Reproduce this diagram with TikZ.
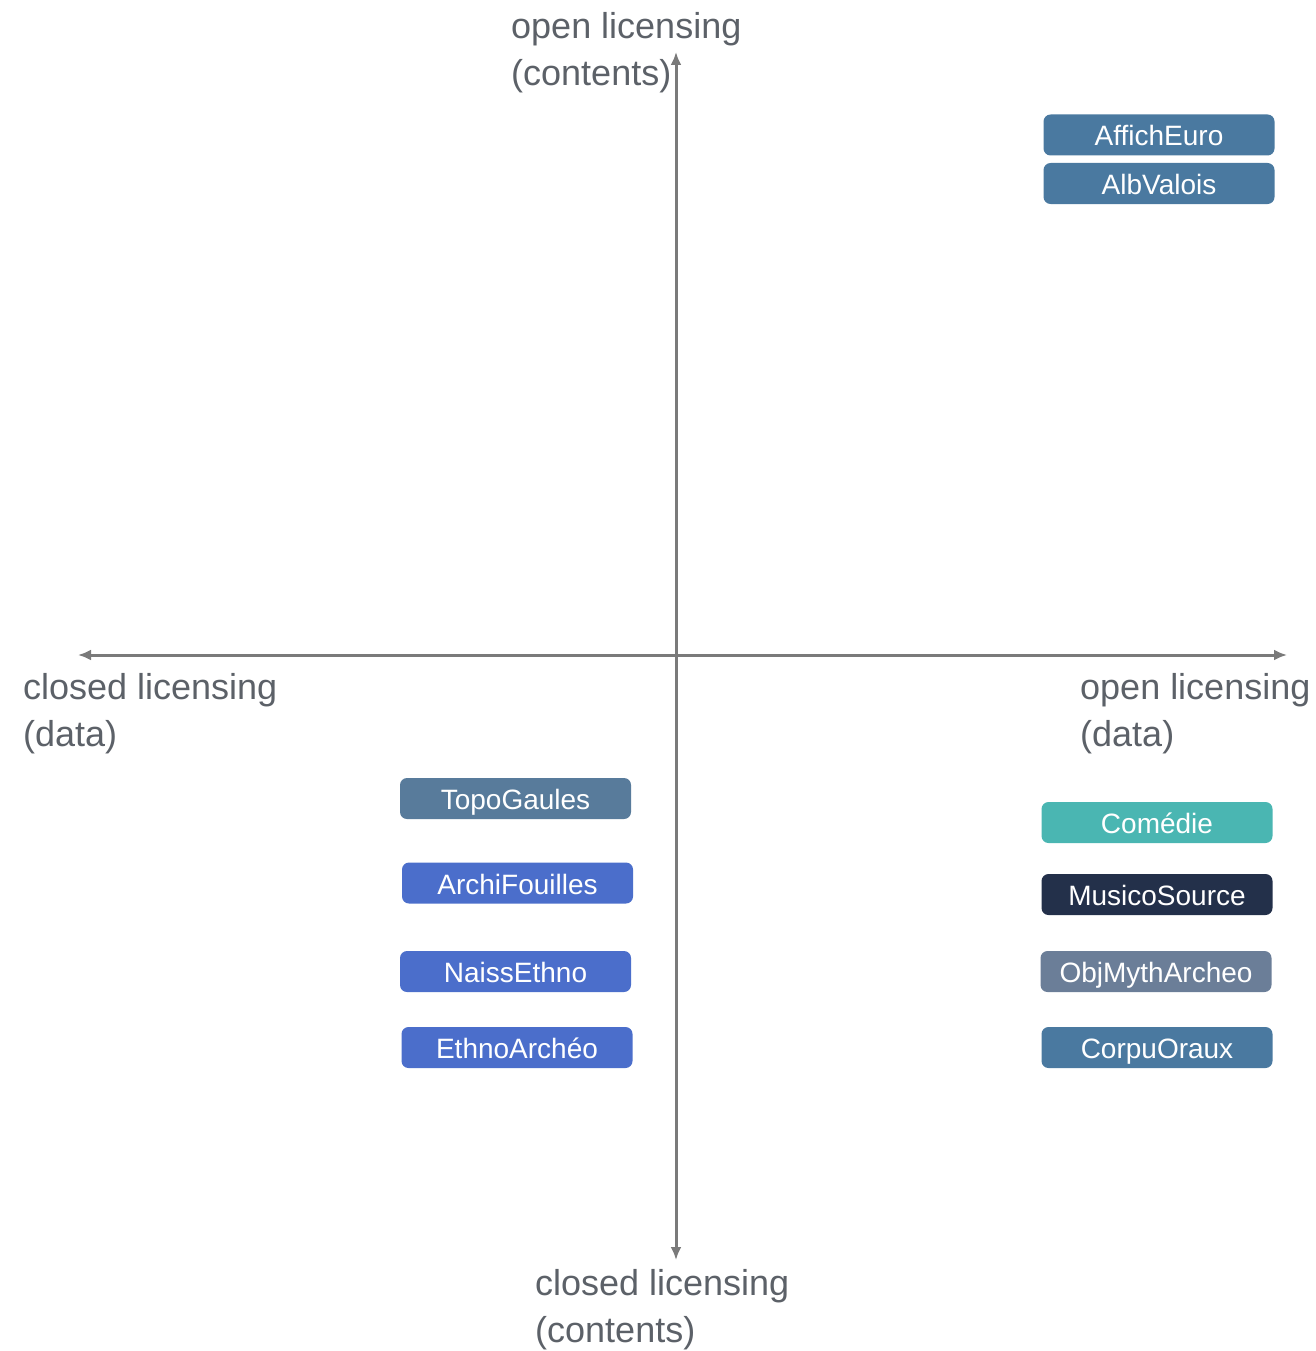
\documentclass[tikz,border=0pt]{standalone}
\usepackage{fontspec}
\setmainfont{Liberation Sans}
\usetikzlibrary{arrows.meta}
\definecolor{axisgray}{HTML}{7A7A7A}
\definecolor{labelgray}{HTML}{5C6168}
\definecolor{steel}{HTML}{4A79A0}
\definecolor{topo}{HTML}{587B9B}
\definecolor{royal}{HTML}{4B6ECB}
\definecolor{teal}{HTML}{4AB6B2}
\definecolor{navy}{HTML}{23304A}
\definecolor{slate}{HTML}{6B7E98}

\begin{document}
\begin{tikzpicture}[x=1pt, y=-1pt,
    axis/.style = {draw=axisgray, line width=3pt, {Latex[length=13pt,width=11pt]}-{Latex[length=13pt,width=11pt]}},
    lbl/.style = {text=labelgray, align=left, inner sep=0pt, anchor=base west, font=\fontsize{36}{47}\selectfont},
    box/.style = {fill=#1, rounded corners=7pt, minimum width=231pt, minimum height=41pt, inner sep=0pt, text height=27pt, text depth=5pt, text=white, font=\fontsize{28}{30}\selectfont}]
        \useasboundingbox (0,0) rectangle (1315,1351);
        \coordinate (north) at (676,52);
        \coordinate (south) at (676,1260);
        \coordinate (west) at (78,655);
        \coordinate (east) at (1287,655);
        \draw[axis] (south) -- (north);
        \draw[axis] (west) -- (east);
        \node[lbl] (opencont) at (511,86) {open licensing\\(contents)};
        \node[lbl] (closeddata) at (23,746) {closed licensing\\(data)};
        \node[lbl] (opendata) at (1080,746) {open licensing\\(data)};
        \node[lbl] (closedcont) at (535,1342) {closed licensing\\(contents)};
        \node[box=steel] (affich) at (1159,135) {AffichEuro};
        \node[box=steel] (alb) at (1159,183.5) {AlbValois};
        \node[box=topo] (topo) at (515.5,798.5) {TopoGaules};
        \node[box=royal] (archi) at (517.5,883) {ArchiFouilles};
        \node[box=royal] (naiss) at (515.5,971.5) {NaissEthno};
        \node[box=royal] (ethno) at (517,1047.5) {EthnoArchéo};
        \node[box=teal] (comedie) at (1157,822.5) {Comédie};
        \node[box=navy] (musico) at (1157,894.5) {MusicoSource};
        \node[box=slate] (objmyth) at (1156,971.5) {ObjMythArcheo};
        \node[box=steel] (corpu) at (1157,1047.5) {CorpuOraux};
\end{tikzpicture}
\end{document}
